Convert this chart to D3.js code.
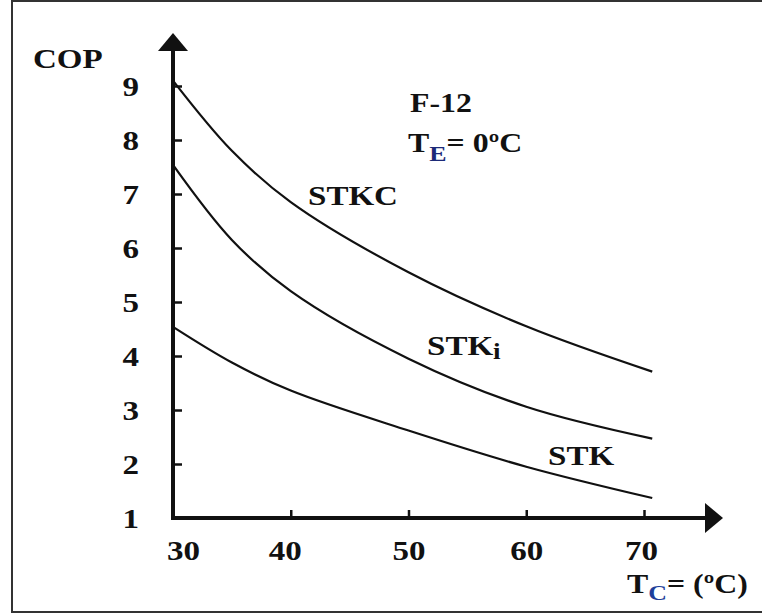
<!DOCTYPE html>
<html>
<head>
<meta charset="utf-8">
<script src="https://cdn.jsdelivr.net/npm/d3@7"></script>
<style>
  body { margin: 0; background: #fff; }
  text { font-family: "Liberation Serif", "Times New Roman", serif; font-weight: bold; fill: #111; }
</style>
</head>
<body>
<div id="chart"></div>
<script>
// condensing temperature (°C) and COP
var tempC = [30, 35, 40, 50, 60, 70.7];
var stkc = [9.1, 7.8, 6.85, 5.55, 4.55, 3.71];
var stki = [7.54, 6.15, 5.2, 3.95, 3.06, 2.47];
var stk = [4.54, 3.88, 3.36, 2.62, 1.95, 1.37];

var xTicks = [30, 40, 50, 60, 70];
var yTicks = [1, 2, 3, 4, 5, 6, 7, 8, 9];

var W = 762, H = 614;
var svg = d3.select("#chart").append("svg").attr("width", W).attr("height", H);

// frame
svg.append("rect")
  .attr("x", 12).attr("y", 1).attr("width", 760).attr("height", 611)
  .attr("fill", "none").attr("stroke", "#333").attr("stroke-width", 2);

var x = d3.scaleLinear().domain([30, 70]).range([173, 644]);
var y = d3.scaleLinear().domain([1, 9]).range([518, 86]);

// y axis
var gy = svg.append("g")
  .attr("transform", "translate(" + x(30) + ",0)")
  .call(d3.axisLeft(y).tickValues(yTicks).tickSizeInner(-9).tickSizeOuter(0).tickPadding(34));
gy.select(".domain").remove();
gy.selectAll(".tick line").attr("stroke", "#111").attr("stroke-width", 2.5);
gy.selectAll(".tick text").attr("class", "stretch").attr("font-size", 28).attr("dy", "0.34em");

// x axis
var gx = svg.append("g")
  .attr("transform", "translate(0," + y(1) + ")")
  .call(d3.axisBottom(x).tickValues(xTicks).tickSizeInner(-8).tickSizeOuter(0));
gx.select(".domain").remove();
gx.selectAll(".tick line").attr("stroke", "#111").attr("stroke-width", 2.5);
gx.selectAll(".tick text")
  .attr("class", "stretch")
  .attr("font-size", 28)
  .attr("y", 42).attr("dy", 0)
  .attr("dx", function(d) { return d == 30 ? 10 : (d == 40 ? -6 : (d == 70 ? -3 : 0)); });

// axis lines with arrows
svg.append("line")
  .attr("x1", x(30)).attr("y1", y(1) + 2).attr("x2", x(30)).attr("y2", 48)
  .attr("stroke", "#111").attr("stroke-width", 4);
svg.append("line")
  .attr("x1", x(30) - 2).attr("y1", y(1)).attr("x2", 708).attr("y2", y(1))
  .attr("stroke", "#111").attr("stroke-width", 4);
svg.append("path")
  .attr("d", "M" + x(30) + ",33 L" + (x(30) - 15) + ",51 L" + (x(30) + 15) + ",51 Z")
  .attr("fill", "#111");
svg.append("path")
  .attr("d", "M723," + y(1) + " L705," + (y(1) - 15) + " L705," + (y(1) + 15) + " Z")
  .attr("fill", "#111");

// curves
var line = d3.line()
  .x(function(d) { return x(d[0]); })
  .y(function(d) { return y(d[1]); })
  .curve(d3.curveCatmullRom.alpha(0.5));

[stkc, stki, stk].forEach(function(s) {
  svg.append("path")
    .datum(tempC.map(function(t, i) { return [t, s[i]]; }))
    .attr("d", line)
    .attr("fill", "none")
    .attr("stroke", "#111")
    .attr("stroke-width", 2.2);
});

// labels
svg.append("text").attr("class", "stretch").attr("x", 33).attr("y", 68).attr("font-size", 28).text("COP");

svg.append("text").attr("class", "stretch").attr("x", 308).attr("y", 205).attr("font-size", 28).text("STKC");

var ti = svg.append("text").attr("class", "stretch").attr("x", 427).attr("y", 355).attr("font-size", 28);
ti.append("tspan").text("STK");
ti.append("tspan").attr("font-size", 23).attr("dy", 4).text("i");

svg.append("text").attr("class", "stretch").attr("x", 548).attr("y", 465).attr("font-size", 28).text("STK");

svg.append("text").attr("class", "stretch").attr("x", 410).attr("y", 112).attr("font-size", 27).text("F-12");

var te = svg.append("text").attr("class", "stretch").attr("x", 408).attr("y", 152).attr("font-size", 27);
te.append("tspan").text("T");
te.append("tspan").attr("font-size", 22).attr("dy", 9).style("fill", "#1c2a78").text("E");
te.append("tspan").attr("dy", -9).text("= 0\u00baC");

var tc = svg.append("text").attr("class", "stretch").attr("x", 627).attr("y", 593).attr("font-size", 27);
tc.append("tspan").text("T");
tc.append("tspan").attr("font-size", 22).attr("dy", 7).style("fill", "#1f3f9a").text("C");
tc.append("tspan").attr("dy", -7).text("= (\u00baC)");

// the original lettering is a little wider than Liberation Serif
svg.selectAll("text.stretch").each(function() {
  var len = this.getComputedTextLength();
  d3.select(this).attr("textLength", len * 1.18).attr("lengthAdjust", "spacingAndGlyphs");
});
</script>
</body>
</html>
